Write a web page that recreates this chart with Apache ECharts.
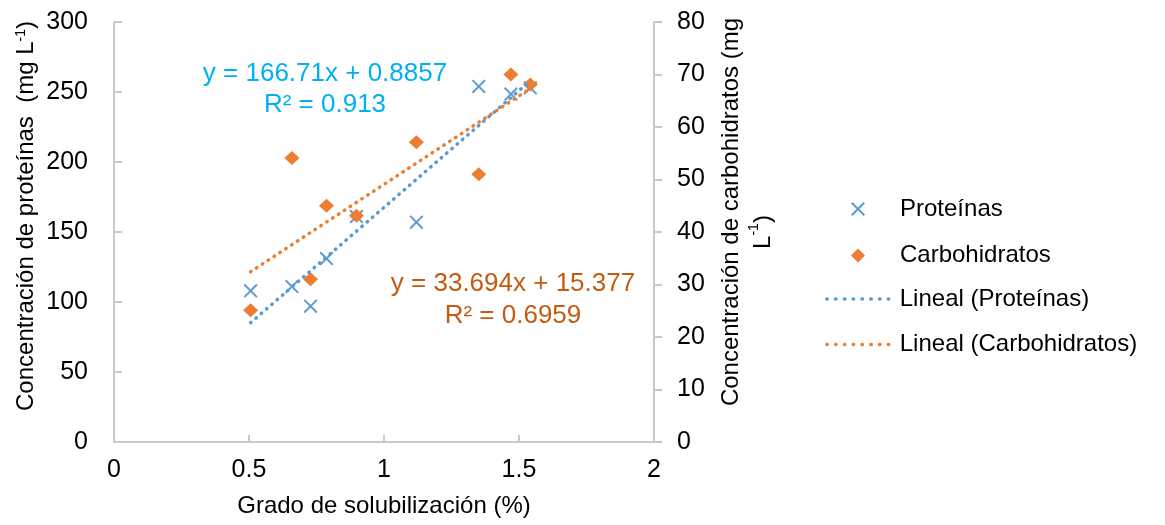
<!DOCTYPE html>
<html>
<head>
<meta charset="utf-8">
<script src="https://cdn.jsdelivr.net/npm/echarts@6/dist/echarts.min.js"></script>
<style>
  html, body { margin: 0; padding: 0; background: #fff; }
  #chart { width: 1165px; height: 525px; }
</style>
</head>
<body>
<div id="chart"></div>
<script>
// datos
const gradoSol = [0.506, 0.659, 0.728, 0.787, 0.898, 1.12, 1.351, 1.47, 1.542];
const proteinas = [108, 111, 97, 131, 161, 157, 254, 248.5, 253];
const carbohidratos = [25.1, 54.1, 31, 45, 43.1, 57.1, 51, 70, 68.1];

// lineas de tendencia (pendiente, ordenada) tal como salen en la figura
const tendProt = [166.71, 0.8857];
const tendCarb = [33.694, 15.377];
const eqProt = ["y = 166.71x + 0.8857", "R² = 0.913"];
const eqCarb = ["y = 33.694x + 15.377", "R² = 0.6959"];

const xTicks = [0, 0.5, 1, 1.5, 2];

const FONT = "Liberation Sans";
const AXIS_COLOR = "#C9C9C9";
const BLUE = "#5B9BD5";
const ORANGE = "#ED7D31";

// simbolo "x" relleno
const cruz = "path://M0,1L1,0L10,9L9,10Z M9,0L10,1L1,10L0,9Z";

const supStyle = { fontSize: 14, verticalAlign: "top", color: "#000", fontFamily: FONT, padding: [0, 0, 10, 0] };

function par(xs, ys) {
  return xs.map((x, i) => [x, ys[i]]);
}
function recta(coef) {
  let x0 = Math.min(...gradoSol);
  let x1 = Math.max(...gradoSol);
  return [
    [x0, coef[0] * x0 + coef[1]],
    [x1, coef[0] * x1 + coef[1]],
  ];
}
function puntos(color) {
  return { color: color, width: 3.5, type: [0.5, 8.3], cap: "round" };
}

var myChart = echarts.init(document.getElementById("chart"));
myChart.setOption({
  animation: false,
  textStyle: { fontFamily: FONT },
  grid: { left: 114, right: 511, top: 22, bottom: 83, containLabel: false },
  legend: [
    {
      // marcadores
      orient: "vertical",
      left: 846,
      top: 192,
      itemWidth: 14,
      itemHeight: 14,
      itemGap: 22.5,
      textStyle: { fontSize: 24, color: "#000", fontFamily: FONT, padding: [0, 0, 0, 30] },
      data: ["Proteínas", "Carbohidratos"],
    },
    {
      // lineas de tendencia
      orient: "vertical",
      left: 820,
      top: 282,
      itemWidth: 62,
      itemHeight: 14,
      itemGap: 21.5,
      textStyle: { fontSize: 24, color: "#000", fontFamily: FONT, padding: [0, 0, 0, 6] },
      data: [
        { name: "Lineal (Proteínas)", itemStyle: { opacity: 0 }, lineStyle: puntos(BLUE) },
        { name: "Lineal (Carbohidratos)", itemStyle: { opacity: 0 }, lineStyle: puntos(ORANGE) },
      ],
    },
  ],
  xAxis: {
    type: "value",
    min: 0,
    max: 2,
    interval: 0.5,
    name: "Grado de solubilización (%)",
    nameLocation: "middle",
    nameGap: 52,
    nameTextStyle: { fontSize: 24, color: "#000", fontFamily: FONT },
    axisLine: { lineStyle: { color: AXIS_COLOR, width: 2 } },
    axisTick: { show: true, inside: true, length: 7, lineStyle: { color: AXIS_COLOR, width: 2 } },
    axisLabel: {
      fontSize: 25,
      color: "#000",
      margin: 16,
      formatter: function (v) {
        return xTicks.indexOf(v) >= 0 ? String(v) : "";
      },
    },
    splitLine: { show: false },
  },
  yAxis: [
    {
      type: "value",
      min: 0,
      max: 300,
      interval: 50,
      position: "left",
      name: "Concentración de proteínas  (mg L{sup|-1})",
      nameLocation: "middle",
      nameGap: 76,
      nameTextStyle: {
        fontSize: 24,
        color: "#000",
        fontFamily: FONT,
        padding: [0, 0, 0, 32],
        rich: { sup: supStyle },
      },
      axisLine: { show: true, lineStyle: { color: AXIS_COLOR, width: 2 } },
      axisTick: { show: true, inside: true, length: 8, lineStyle: { color: AXIS_COLOR, width: 2 } },
      axisLabel: { fontSize: 25, color: "#000", margin: 26 },
      splitLine: { show: false },
    },
    {
      type: "value",
      min: 0,
      max: 80,
      interval: 10,
      position: "right",
      name: "{l1|Concentración de carbohidratos (mg}\nL{sup|-1})",
      nameLocation: "middle",
      nameGap: 61,
      nameRotate: 90,
      nameTextStyle: {
        fontSize: 24,
        lineHeight: 32,
        color: "#000",
        fontFamily: FONT,
        rich: {
          l1: { fontSize: 24, lineHeight: 32, color: "#000", fontFamily: FONT, padding: [0, 0, 0, 40] },
          sup: supStyle,
        },
      },
      axisLine: { show: true, lineStyle: { color: AXIS_COLOR, width: 2 } },
      axisTick: { show: true, inside: false, length: 8, lineStyle: { color: AXIS_COLOR, width: 2 } },
      axisLabel: { fontSize: 25, color: "#000", margin: 23 },
      splitLine: { show: false },
    },
  ],
  series: [
    {
      name: "Proteínas",
      type: "scatter",
      yAxisIndex: 0,
      symbol: cruz,
      symbolSize: 14,
      itemStyle: { color: BLUE, opacity: 1 },
      data: par(gradoSol, proteinas),
    },
    {
      name: "Carbohidratos",
      type: "scatter",
      yAxisIndex: 1,
      symbol: "diamond",
      symbolSize: [15, 14],
      itemStyle: { color: ORANGE, opacity: 1 },
      data: par(gradoSol, carbohidratos),
    },
    {
      name: "Lineal (Proteínas)",
      type: "line",
      yAxisIndex: 0,
      symbol: "none",
      lineStyle: { color: BLUE, width: 3.5, type: [0.5, 6.5], cap: "round" },
      itemStyle: { color: BLUE },
      data: recta(tendProt),
      z: 3,
    },
    {
      name: "Lineal (Carbohidratos)",
      type: "line",
      yAxisIndex: 1,
      symbol: "none",
      lineStyle: { color: ORANGE, width: 3.5, type: [0.5, 6.5], cap: "round" },
      itemStyle: { color: ORANGE },
      data: recta(tendCarb),
      z: 3,
    },
  ],
  graphic: [
    {
      type: "text",
      x: 325,
      y: 58,
      style: {
        text: eqProt.join("\n"),
        align: "center",
        verticalAlign: "top",
        fontSize: 26,
        lineHeight: 31,
        fill: "#00B0F0",
        fontFamily: FONT,
      },
    },
    {
      type: "text",
      x: 513,
      y: 268,
      style: {
        text: eqCarb.join("\n"),
        align: "center",
        verticalAlign: "top",
        fontSize: 26,
        lineHeight: 32,
        fill: "#C55A11",
        fontFamily: FONT,
      },
    },
  ],
});
</script>
</body>
</html>
